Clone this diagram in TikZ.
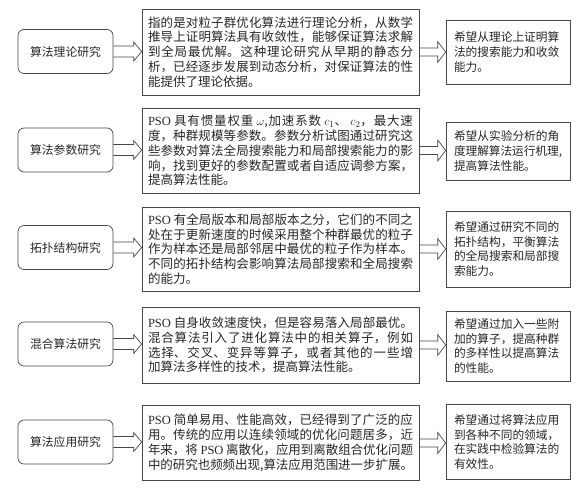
\documentclass[tikz,border=0pt]{standalone}
\usepackage{fontspec}
\setmainfont{Liberation Serif}
\newfontfamily\cjk{Noto Sans CJK SC}
\usetikzlibrary{calc}
\XeTeXlinebreaklocale "zh"
\XeTeXlinebreakskip=0pt plus 3pt minus 0.4pt
\newcommand\lat[1]{{\rmfamily #1}}
\newcommand\hollowarrow[5]{%
  \draw[arrowline] let \p1=(#1.east), \p2=(#2.west) in
  (\x1,\y1+#3) -- (\x2-#5,\y1+#3) -- (\x2-#5,\y1+#4) -- (\x2,\y1)
  -- (\x2-#5,\y1-#4) -- (\x2-#5,\y1-#3) -- (\x1,\y1-#3);}
\begin{document}
\begin{tikzpicture}[x=1pt,y=-1pt,
  leftbox/.style={draw=black!72, line width=0.7pt, rounded corners=6pt,
    minimum width=95pt, minimum height=44pt, inner sep=0pt,
    font=\cjk\fontsize{11.8}{14}\selectfont, text=black!85},
  midbox/.style={draw=black!72, line width=0.7pt, text width=265pt,
    align=justify, inner xsep=6pt, inner ysep=0pt,
    font=\cjk\fontsize{12.5}{14.8}\selectfont, text=black!85},
  rightbox/.style={draw=black!72, line width=0.7pt, text width=108pt,
    align=left, inner xsep=8pt, inner ysep=0pt,
    font=\cjk\fontsize{11.7}{14.8}\selectfont, text=black!85},
  arrowline/.style={draw=black!72, line width=0.7pt, line join=miter}]
\useasboundingbox (0,0) rectangle (585,496);

% row 1
\node[leftbox] (l1) at (65.5,51.5) {算法理论研究};
\node[midbox, minimum height=86pt] (m1) at (280.5,52) {指的是对粒子群优化算法进行理论分析，从数学\linebreak
推导上证明算法具有收敛性，能够保证算法求解\linebreak
到全局最优解。这种理论研究从早期的静态分\linebreak
析，已经逐步发展到动态分析，对保证算法的性\linebreak
能提供了理论依据。};
\node[rightbox, minimum height=64pt] (r1) at (508,52) {希望从理论上证明算\\法的搜索能力和收敛\\能力。};

% row 2
\node[leftbox] (l2) at (65.5,150) {算法参数研究};
\node[midbox, minimum height=85pt] (m2) at (280.5,150.5) {\lat{PSO} 具有惯量权重 $\omega$,加速系数 $c_1$、 $c_2$，最大速\linebreak
度，种群规模等参数。参数分析试图通过研究这\linebreak
些参数对算法全局搜索能力和局部搜索能力的影\linebreak
响，找到更好的参数配置或者自适应调参方案，\linebreak
提高算法性能。};
\node[rightbox, minimum height=58pt] (r2) at (508,151) {希望从实验分析的角\\度理解算法运行机理,\\提高算法性能。};

% row 3
\node[leftbox] (l3) at (65.5,247.5) {拓扑结构研究};
\node[midbox, minimum height=84pt] (m3) at (280.5,249) {\lat{PSO} 有全局版本和局部版本之分，它们的不同之\linebreak
处在于更新速度的时候采用整个种群最优的粒子\linebreak
作为样本还是局部邻居中最优的粒子作为样本。\linebreak
不同的拓扑结构会影响算法局部搜索和全局搜索\linebreak
的能力。};
\node[rightbox, minimum height=76pt] (r3) at (508,249) {希望通过研究不同的\\拓扑结构，平衡算法\\的全局搜索和局部搜\\索能力。};

% row 4
\node[leftbox] (l4) at (65.5,344) {混合算法研究};
\node[midbox, minimum height=76pt] (m4) at (280.5,345) {\lat{PSO} 自身收敛速度快，但是容易落入局部最优。\linebreak
混合算法引入了进化算法中的相关算子，例如\linebreak
选择、交叉、变异等算子，或者其他的一些增\linebreak
加算法多样性的技术，提高算法性能。};
\node[rightbox, minimum height=70pt] (r4) at (508,346) {希望通过加入一些附\\加的算子，提高种群\\的多样性以提高算法\\的性能。};

% row 5
\node[leftbox] (l5) at (65.5,442) {算法应用研究};
\node[midbox, minimum height=75pt] (m5) at (280.5,443) {\lat{PSO} 简单易用、性能高效，已经得到了广泛的应\linebreak
用。传统的应用以连续领域的优化问题居多，近\linebreak
年来，将 \lat{PSO} 离散化，应用到离散组合优化问题\linebreak
中的研究也频频出现,算法应用范围进一步扩展。};
\node[rightbox, minimum height=75pt] (r5) at (508,442) {希望通过将算法应用\\到各种不同的领域，\\在实践中检验算法的\\有效性。};

% arrows
\foreach \i in {1,...,5}{
  \hollowarrow{l\i}{m\i}{5.5pt}{9.5pt}{8pt}
  \hollowarrow{m\i}{r\i}{4pt}{10.5pt}{8pt}
}
\end{tikzpicture}
\end{document}
